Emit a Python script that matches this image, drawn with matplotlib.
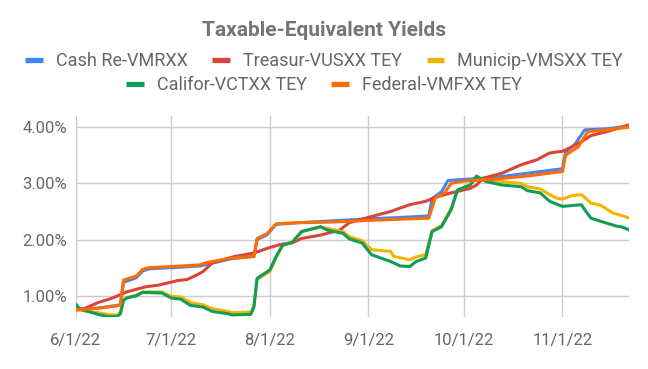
import matplotlib
matplotlib.use("Agg")
import matplotlib.pyplot as plt
import matplotlib.dates as mdates
from matplotlib.lines import Line2D
from matplotlib.ticker import FuncFormatter
import pandas as pd

# ------------------------------------------------------------------
# Datos (en %)
# ------------------------------------------------------------------
cash_dates = ["2022-06-01", "2022-06-08", "2022-06-15", "2022-06-16", "2022-06-20",
              "2022-06-22", "2022-06-24", "2022-07-01", "2022-07-10", "2022-07-20",
              "2022-07-27", "2022-07-28", "2022-07-31", "2022-08-03", "2022-08-10",
              "2022-08-20", "2022-09-01", "2022-09-10", "2022-09-20", "2022-09-21",
              "2022-09-24", "2022-09-26", "2022-10-01", "2022-10-10", "2022-10-21",
              "2022-11-01", "2022-11-02", "2022-11-05", "2022-11-08", "2022-11-15",
              "2022-11-22"]
cash_vals = [0.75, 0.78, 0.84, 1.24, 1.32, 1.44, 1.48, 1.50, 1.53, 1.66,
             1.70, 2.00, 2.08, 2.27, 2.30, 2.33, 2.37, 2.39, 2.42, 2.73,
             2.85, 3.05, 3.07, 3.10, 3.18, 3.26, 3.55, 3.70, 3.95, 3.97,
             4.02]

treas_dates = ["2022-06-01", "2022-06-04", "2022-06-08", "2022-06-12", "2022-06-15",
               "2022-06-17", "2022-06-23", "2022-06-27", "2022-07-03", "2022-07-06",
               "2022-07-09", "2022-07-11", "2022-07-14", "2022-07-21", "2022-07-27",
               "2022-08-01", "2022-08-05", "2022-08-08", "2022-08-11", "2022-08-17",
               "2022-08-23", "2022-08-26", "2022-09-02", "2022-09-08", "2022-09-14",
               "2022-09-19", "2022-09-22", "2022-09-27", "2022-10-03", "2022-10-05",
               "2022-10-07", "2022-10-13", "2022-10-19", "2022-10-24", "2022-10-28",
               "2022-11-01", "2022-11-04", "2022-11-07", "2022-11-10", "2022-11-15",
               "2022-11-22"]
treas_vals = [0.75, 0.78, 0.88, 0.95, 1.02, 1.07, 1.16, 1.19, 1.27, 1.29,
              1.37, 1.43, 1.59, 1.70, 1.76, 1.86, 1.92, 1.94, 2.02, 2.08,
              2.17, 2.30, 2.41, 2.50, 2.62, 2.68, 2.75, 2.83, 2.91, 2.97,
              3.09, 3.18, 3.33, 3.42, 3.54, 3.57, 3.65, 3.74, 3.85, 3.92,
              4.04]

muni_dates = ["2022-06-01", "2022-06-03", "2022-06-05", "2022-06-08", "2022-06-11",
              "2022-06-14", "2022-06-15", "2022-06-16", "2022-06-17", "2022-06-20",
              "2022-06-22", "2022-06-28", "2022-07-01", "2022-07-04", "2022-07-07",
              "2022-07-11", "2022-07-14", "2022-07-19", "2022-07-20", "2022-07-26",
              "2022-07-27", "2022-07-28", "2022-08-01", "2022-08-03", "2022-08-05",
              "2022-08-08", "2022-08-11", "2022-08-17", "2022-08-19", "2022-08-24",
              "2022-08-26", "2022-08-30", "2022-09-02", "2022-09-08", "2022-09-09",
              "2022-09-14", "2022-09-16", "2022-09-19", "2022-09-21", "2022-09-24",
              "2022-09-27", "2022-09-29", "2022-10-03", "2022-10-05", "2022-10-08",
              "2022-10-13", "2022-10-19", "2022-10-21", "2022-10-25", "2022-10-28",
              "2022-10-30", "2022-11-01", "2022-11-04", "2022-11-07", "2022-11-10",
              "2022-11-13", "2022-11-17", "2022-11-20", "2022-11-22"]
muni_vals = [0.75, 0.74, 0.72, 0.70, 0.67, 0.66, 0.70, 0.93, 0.97, 1.01,
             1.07, 1.07, 0.99, 0.98, 0.88, 0.84, 0.77, 0.72, 0.70, 0.71,
             0.82, 1.29, 1.43, 1.68, 1.89, 1.95, 2.15, 2.22, 2.20, 2.14,
             2.05, 1.98, 1.82, 1.79, 1.70, 1.64, 1.69, 1.73, 2.16, 2.25,
             2.55, 2.88, 2.98, 3.10, 3.06, 3.03, 3.00, 2.94, 2.90, 2.80,
             2.74, 2.72, 2.78, 2.80, 2.65, 2.61, 2.47, 2.42, 2.38]

cali_dates = ["2022-06-01", "2022-06-02", "2022-06-03", "2022-06-05", "2022-06-08",
              "2022-06-11", "2022-06-14", "2022-06-15", "2022-06-16", "2022-06-17",
              "2022-06-20", "2022-06-22", "2022-06-28", "2022-07-01", "2022-07-04",
              "2022-07-07", "2022-07-11", "2022-07-14", "2022-07-19", "2022-07-20",
              "2022-07-26", "2022-07-27", "2022-07-28", "2022-08-01", "2022-08-03",
              "2022-08-05", "2022-08-08", "2022-08-11", "2022-08-17", "2022-08-19",
              "2022-08-24", "2022-08-26", "2022-08-30", "2022-09-02", "2022-09-08",
              "2022-09-11", "2022-09-14", "2022-09-16", "2022-09-19", "2022-09-21",
              "2022-09-24", "2022-09-27", "2022-09-29", "2022-10-03", "2022-10-05",
              "2022-10-08", "2022-10-13", "2022-10-19", "2022-10-21", "2022-10-25",
              "2022-10-28", "2022-11-01", "2022-11-07", "2022-11-08", "2022-11-10",
              "2022-11-15", "2022-11-18", "2022-11-20", "2022-11-22"]
cali_vals = [0.85, 0.78, 0.75, 0.72, 0.67, 0.63, 0.63, 0.68, 0.92, 0.96,
             1.00, 1.06, 1.05, 0.96, 0.94, 0.83, 0.80, 0.72, 0.68, 0.66,
             0.67, 0.80, 1.31, 1.46, 1.70, 1.90, 1.95, 2.14, 2.23, 2.17,
             2.11, 2.01, 1.94, 1.73, 1.61, 1.53, 1.52, 1.61, 1.67, 2.14,
             2.23, 2.53, 2.88, 2.97, 3.13, 3.03, 2.97, 2.94, 2.87, 2.83,
             2.68, 2.59, 2.62, 2.53, 2.38, 2.29, 2.24, 2.22, 2.17]

fed_dates = ["2022-06-01", "2022-06-08", "2022-06-14", "2022-06-15", "2022-06-16",
             "2022-06-20", "2022-06-22", "2022-06-24", "2022-07-01", "2022-07-10",
             "2022-07-12", "2022-07-20", "2022-07-27", "2022-07-28", "2022-07-31",
             "2022-08-03", "2022-08-10", "2022-08-20", "2022-09-01", "2022-09-10",
             "2022-09-20", "2022-09-22", "2022-09-25", "2022-09-27", "2022-10-01",
             "2022-10-10", "2022-10-21", "2022-11-01", "2022-11-02", "2022-11-06",
             "2022-11-09", "2022-11-15", "2022-11-22"]
fed_vals = [0.75, 0.78, 0.82, 0.84, 1.28, 1.35, 1.47, 1.50, 1.52, 1.55,
            1.59, 1.67, 1.70, 2.02, 2.10, 2.28, 2.30, 2.31, 2.34, 2.36,
            2.38, 2.74, 2.83, 3.00, 3.04, 3.07, 3.13, 3.21, 3.50, 3.65,
            3.92, 3.95, 4.00]

series = [
    ("Cash Re-VMRXX", cash_dates, cash_vals, "#4285F4"),
    ("Treasur-VUSXX TEY", treas_dates, treas_vals, "#DB4437"),
    ("Municip-VMSXX TEY", muni_dates, muni_vals, "#F4B400"),
    ("Califor-VCTXX TEY", cali_dates, cali_vals, "#0F9D58"),
    ("Federal-VMFXX TEY", fed_dates, fed_vals, "#FF6D01"),
]

x_ticks = ["2022-06-01", "2022-07-01", "2022-08-01", "2022-09-01", "2022-10-01", "2022-11-01"]
y_ticks = [1.0, 2.0, 3.0, 4.0]

# ------------------------------------------------------------------
# Grafico
# ------------------------------------------------------------------
plt.rcParams["font.family"] = ["Roboto", "DejaVu Sans"]
GRIS = "#666666"

fig = plt.figure(figsize=(6.48, 3.69), dpi=100)
ax = fig.add_axes([0.117, 0.142, 0.854, 0.544])

handles = []
for nombre, fechas, valores, color in series:
    ax.plot(pd.to_datetime(fechas), valores, color=color, lw=2.2,
            solid_joinstyle="round", solid_capstyle="round", zorder=3)
    handles.append(Line2D([], [], color=color, lw=3.8, solid_capstyle="butt", label=nombre))

ax.set_xlim(pd.Timestamp("2022-06-01"), pd.Timestamp("2022-11-22"))
ax.set_ylim(0.63, 4.2)
ax.set_xticks(pd.to_datetime(x_ticks))
ax.xaxis.set_major_formatter(FuncFormatter(
    lambda v, p: "{d.month}/{d.day}/{y}".format(d=mdates.num2date(v), y=mdates.num2date(v).strftime("%y"))))
ax.set_yticks(y_ticks)
ax.yaxis.set_major_formatter(FuncFormatter(lambda v, p: f"{v:.2f}%"))

ax.grid(True, color="#cccccc", lw=1)
ax.set_axisbelow(True)
for s in ax.spines.values():
    s.set_visible(False)
ax.tick_params(length=0, colors=GRIS, labelsize=12)
ax.tick_params(axis="x", pad=12)
ax.tick_params(axis="y", pad=6)

fig.text(0.5, 0.9024, "Taxable-Equivalent Yields", ha="center", va="baseline",
         fontsize=15, fontweight="bold", color="#757575")

leg_kw = dict(frameon=False, fontsize=13, handlelength=0.98, handletextpad=0.7,
              columnspacing=1.38, labelcolor=GRIS, loc="center",
              borderpad=0, borderaxespad=0)
fig.legend(handles=handles[:3], ncol=3, bbox_to_anchor=(0.5, 0.834), **leg_kw)
fig.legend(handles=handles[3:], ncol=2, bbox_to_anchor=(0.5, 0.769), **leg_kw)

fig.savefig("out.png", dpi=100)
